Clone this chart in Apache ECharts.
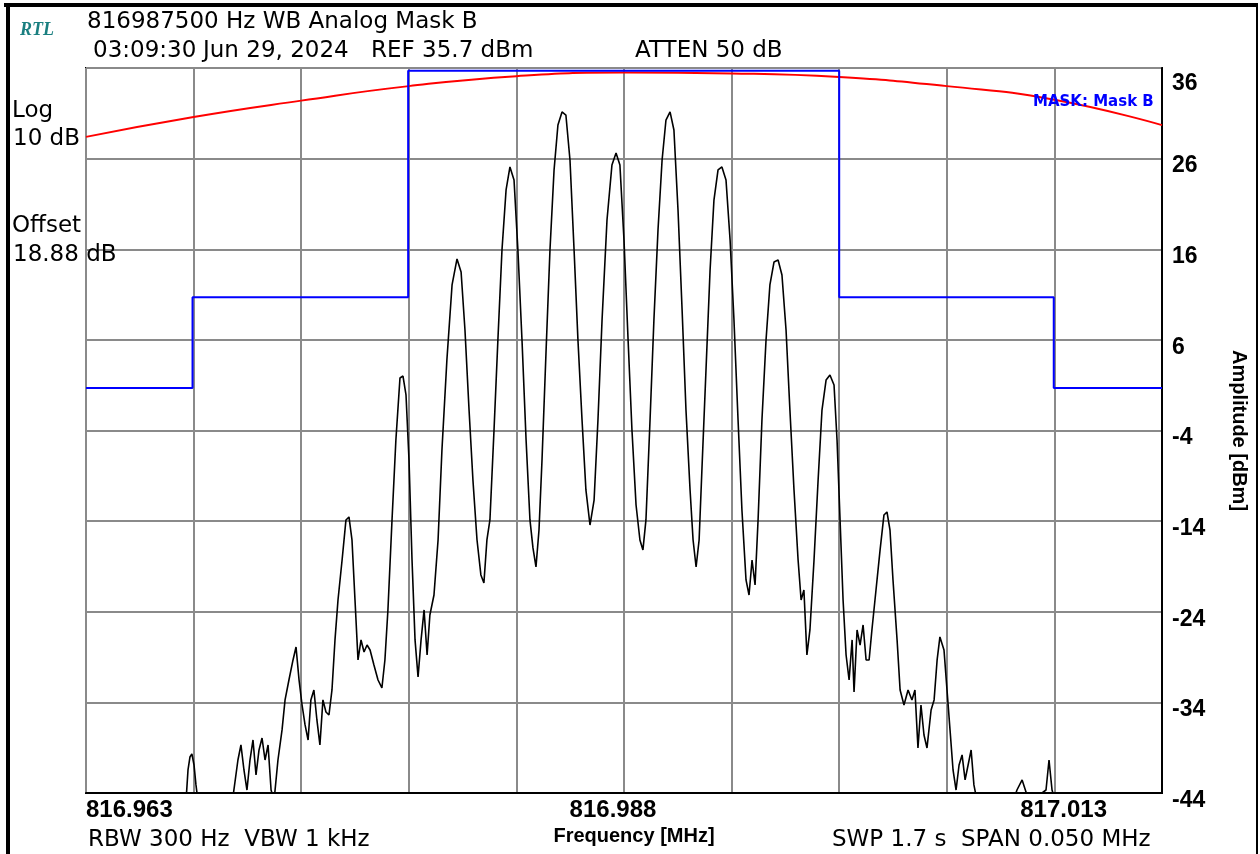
<!DOCTYPE html>
<html>
<head>
<meta charset="utf-8">
<script src="https://cdn.jsdelivr.net/npm/echarts@6/dist/echarts.min.js"></script>
<style>
html,body{margin:0;padding:0;background:#fff;}
#c{width:1260px;height:854px;}
</style>
</head>
<body>
<div id="c"></div>
<script>
// ---- data (frequency as offset from the center frequency, in kHz) ----
const centerMHz = 816.9875;
const xTickLabels = ['816.963', '816.988', '817.013'];
const yTicks = [-44, -34, -24, -14, -4, 6, 16, 26, 36];

const traceKHz = [
  -25, -21.93, -20.35, -20.26, -20.17, -20.08, -19.98, -19.89, -19.80,
  -18.22, -17.94, -17.80, -17.66, -17.52, -17.38, -17.24, -17.10, -16.96, -16.82, -16.68, -16.54, -16.40, -16.26,
  -16.08, -15.89, -15.75, -15.57, -15.38, -15.24, -15.10, -14.96, -14.82, -14.68, -14.55, -14.41, -14.27, -14.13, -13.99, -13.85, -13.71, -13.57,
  -13.43, -13.29, -13.10, -12.92, -12.78, -12.64, -12.50, -12.36, -12.22, -12.08, -11.94, -11.80, -11.62, -11.43, -11.25,
  -11.11, -10.97, -10.78, -10.60, -10.41, -10.27, -10.13, -9.99, -9.85, -9.71, -9.57, -9.43, -9.29, -9.15, -9.02, -8.83, -8.64,
  -8.46, -8.23, -7.99, -7.76, -7.57, -7.39, -7.20, -7.02, -6.83, -6.65, -6.51, -6.37, -6.23, -6.04, -5.86, -5.67, -5.48, -5.30, -5.11, -4.93, -4.74, -4.55, -4.37, -4.23, -4.09, -3.95,
  -3.81, -3.62, -3.44, -3.25, -3.07, -2.88, -2.70, -2.51, -2.32, -2.14, -1.95, -1.77, -1.58, -1.39, -1.21, -1.02, -0.79, -0.56, -0.37, -0.19, 0, 0.19, 0.37, 0.56, 0.74, 0.88,
  1.02, 1.21, 1.39, 1.58, 1.77, 1.95, 2.14, 2.32, 2.51, 2.70, 2.88, 3.07, 3.21, 3.35, 3.49, 3.62, 3.81, 4.00, 4.18, 4.37, 4.55, 4.74, 4.93, 5.11, 5.30, 5.48, 5.67, 5.81,
  5.95, 6.09, 6.23, 6.41, 6.60, 6.78, 6.97, 7.16, 7.34, 7.53, 7.71, 7.90, 8.09, 8.23, 8.36, 8.50, 8.64, 8.83, 9.02, 9.20, 9.39, 9.57, 9.76, 9.90, 10.04, 10.18, 10.32, 10.46,
  10.60, 10.69, 10.83, 10.97, 11.11, 11.25, 11.39, 11.52, 11.71, 11.90, 12.08, 12.22, 12.36, 12.50, 12.69, 12.83, 13.01, 13.20, 13.38, 13.52, 13.66, 13.80, 13.94, 14.08, 14.27, 14.41, 14.55, 14.68, 14.87, 15.01,
  15.15, 15.29, 15.43, 15.57, 15.71, 15.85, 15.99, 16.13, 16.26, 16.40, 18.03, 18.26, 18.50, 18.68, 18.96, 19.61, 19.75, 19.89, 20.03, 25
];
const traceDbm = [
  -52, -52, -44.8, -41.46, -40.03, -39.69, -40.91, -43.11, -44.8,
  -45.3, -40.36, -38.70, -41.46, -43.67, -40.36, -38.15, -42.01, -39.25, -37.93, -40.36, -38.70, -43.67, -44.8,
  -40.36, -37.04, -33.73, -31.53, -29.32, -27.89, -31.53, -34.29, -36.49, -38.15, -33.73, -32.63, -35.94, -38.70, -33.73, -35.06, -35.39, -32.63,
  -27.11, -22.70, -18.29, -13.87, -13.54, -16.08, -22.70, -29.32, -27.11, -28.44, -27.67, -28.22, -29.87, -31.53, -32.41,
  -29.32, -23.80, -13.87, -5.05, 1.79, 2.01, -0.08, -7.25, -18.29, -27.11, -31.20, -27.11, -23.80, -28.77, -24.36, -22.15, -16.08,
  -6.15, 3.78, 12.06, 14.93, 13.49, 7.09, -1.74, -9.46, -16.08, -19.94, -20.82, -16.08, -13.87, -3.94, 5.99, 15.92, 22.54, 25.08, 23.64, 15.92, 5.99, -5.05, -13.87, -16.96, -19.06, -14.98,
  -7.25, 4.88, 15.92, 24.75, 29.71, 31.15, 30.81, 25.85, 15.92, 5.99, -2.84, -10.56, -14.43, -11.67, -2.84, 8.19, 19.23, 25.30, 26.62, 25.30, 17.02, 5.99, -3.94, -12.22, -16.08, -17.18,
  -13.87, -2.84, 8.19, 18.12, 25.85, 30.26, 31.15, 29.16, 20.33, 9.30, -1.74, -10.56, -16.08, -19.06, -16.08, -8.36, 2.68, 13.71, 21.43, 24.75, 25.08, 23.64, 17.02, 8.19, -2.84, -12.77, -20.49, -22.15,
  -18.29, -21.05, -13.87, -2.84, 5.99, 12.06, 14.59, 14.81, 13.16, 7.09, -1.74, -10.56, -18.29, -22.70, -21.60, -28.77, -26.01, -18.29, -9.46, -1.74, 1.57, 2.13, 1.02, -5.05, -13.87, -22.70, -28.77, -31.53,
  -27.11, -32.85, -26.01, -27.67, -25.46, -29.32, -29.32, -26.01, -21.60, -17.18, -13.32, -12.99, -14.98, -20.49, -27.11, -32.63, -34.29, -32.63, -33.73, -32.63, -39.03, -34.29, -37.60, -39.03, -34.84, -33.73, -29.32, -26.78, -28.22, -32.63,
  -37.04, -41.46, -43.67, -40.91, -39.80, -42.56, -40.91, -39.25, -43.11, -44.8, -45.3, -43.67, -42.56, -43.89, -44.8, -43.67, -40.36, -43.67, -44.8, -52
];

const maskKHz = [-25, -20.05, -20.05, -10.03, -10.03, 10.0, 10.0, 19.97, 19.97, 25];
const maskDbm = [0.7, 0.7, 10.7, 10.7, 35.7, 35.7, 10.7, 10.7, 0.7, 0.7];

const limitKHz = [-25, -20, -15, -10, -5, 0, 5, 10, 15, 20, 25];
const limitDbm = [28.4, 30.6, 32.4, 34.0, 35.1, 35.5, 35.4, 35.0, 34.0, 32.5, 29.7];

const zip = (a, b) => a.map((v, i) => [v, b[i]]);

const REG = "'DejaVu Sans', sans-serif";
const BOLD = "'Liberation Sans', Arial, sans-serif";

const chart = echarts.init(document.getElementById('c'), null, {renderer: 'canvas'});

function txt(x, y, s, font, color) {
  return {
    type: 'text', x: x, y: y, z: 100,
    style: {text: s, font: font, fill: color || '#000', verticalAlign: 'middle', align: 'left'}
  };
}

const option = {
  backgroundColor: '#fff',
  animation: false,
  grid: {left: 86, top: 68, width: 1076, height: 725, show: true, borderColor: '#000', borderWidth: 2, backgroundColor: 'transparent'},
  xAxis: {
    type: 'value', min: -25, max: 25, interval: 5,
    name: 'Frequency [MHz]', nameLocation: 'middle', nameGap: 33,
    nameTextStyle: {fontFamily: BOLD, fontWeight: 'bold', fontSize: 20, color: '#000', padding: [0, 0, 0, 20]},
    axisLine: {show: true, onZero: false, lineStyle: {color: '#000', width: 2}},
    axisTick: {show: false},
    splitLine: {show: true, lineStyle: {color: '#8a8a8a', width: 2}},
    axisLabel: {
      show: true, margin: 5, showMinLabel: true, showMaxLabel: true,
      alignMinLabel: 'left', alignMaxLabel: 'right',
      fontFamily: BOLD, fontWeight: 'bold', fontSize: 24, color: '#000',
      formatter: function (v) {
        if (Math.abs(v + 25) < 1e-6) return '{l|' + xTickLabels[0] + '}';
        if (Math.abs(v) < 1e-6) return '{c|' + xTickLabels[1] + '}';
        if (Math.abs(v - 25) < 1e-6) return '{r|' + xTickLabels[2] + '}';
        return '';
      },
      rich: {
        l: {fontFamily: BOLD, fontWeight: 'bold', fontSize: 24, color: '#000', padding: [0, 0, 0, 0]},
        c: {fontFamily: BOLD, fontWeight: 'bold', fontSize: 24, color: '#000', padding: [0, 22, 0, 0]},
        r: {fontFamily: BOLD, fontWeight: 'bold', fontSize: 24, color: '#000', padding: [0, 55, 0, 0]}
      }
    }
  },
  yAxis: {
    type: 'value', position: 'right', min: yTicks[0], max: yTicks[yTicks.length - 1], interval: 10,
    name: 'Amplitude [dBm]', nameLocation: 'middle', nameRotate: -90, nameGap: 67,
    nameTextStyle: {fontFamily: BOLD, fontWeight: 'bold', fontSize: 20, color: '#000'},
    axisLine: {show: true, onZero: false, lineStyle: {color: '#000', width: 2}},
    axisTick: {show: false},
    splitLine: {show: true, lineStyle: {color: '#8a8a8a', width: 2}},
    axisLabel: {
      show: true, margin: 10, align: 'left',
      fontFamily: BOLD, fontWeight: 'bold', fontSize: 23, color: '#000',
      formatter: function (v) {
        return (v === yTicks[yTicks.length - 1] ? '{t|' : '{n|') + v + '}';
      },
      rich: {
        n: {fontFamily: BOLD, fontWeight: 'bold', fontSize: 23, color: '#000', padding: [15, 0, 0, 0]},
        t: {fontFamily: BOLD, fontWeight: 'bold', fontSize: 23, color: '#000', padding: [32, 0, 0, 0]}
      }
    }
  },
  series: [
    {
      name: 'Limit', type: 'line', data: zip(limitKHz, limitDbm), smooth: 0.5, showSymbol: false,
      lineStyle: {color: '#ff0000', width: 2}, z: 3, clip: true
    },
    {
      name: 'Mask B', type: 'line', data: zip(maskKHz, maskDbm), showSymbol: false,
      lineStyle: {color: '#0000ff', width: 2}, z: 4, clip: true
    },
    {
      name: 'Trace', type: 'line', data: zip(traceKHz, traceDbm), showSymbol: false, smooth: false,
      lineStyle: {color: '#000', width: 1.6}, z: 5, clip: true
    }
  ],
  graphic: [
    {type: 'rect', shape: {x: 4, y: 3, width: 1254, height: 4}, style: {fill: '#000'}, z: 100},
    {type: 'rect', shape: {x: 6, y: 3, width: 4, height: 851}, style: {fill: '#000'}, z: 100},
    {type: 'rect', shape: {x: 1256, y: 3, width: 2, height: 851}, style: {fill: '#000'}, z: 100},
    txt(20, 30, 'RTL', "italic bold 18px 'Liberation Serif', 'DejaVu Serif', serif", '#1a7f80'),
    txt(87, 22, '816987500 Hz WB Analog Mask B', '23px ' + REG),
    txt(93, 51, '03:09:30', '23px ' + REG),
    txt(203, 51, 'Jun 29, 2024', '23px ' + REG),
    txt(371, 51, 'REF 35.7 dBm', '23px ' + REG),
    txt(635, 51, 'ATTEN 50 dB', '23px ' + REG),
    txt(12, 111, 'Log', '23px ' + REG),
    txt(13, 139, '10 dB', '23px ' + REG),
    txt(12, 226, 'Offset', '23px ' + REG),
    txt(13, 255, '18.88 dB', '23px ' + REG),
    txt(88, 840, 'RBW 300 Hz  VBW 1 kHz', '23px ' + REG),
    txt(832, 840, 'SWP 1.7 s  SPAN 0.050 MHz', '23px ' + REG),
    txt(1033, 102, 'MASK: Mask B', "bold 15px 'DejaVu Sans', sans-serif", '#0000ff')
  ]
};
chart.setOption(option);
</script>
</body>
</html>
